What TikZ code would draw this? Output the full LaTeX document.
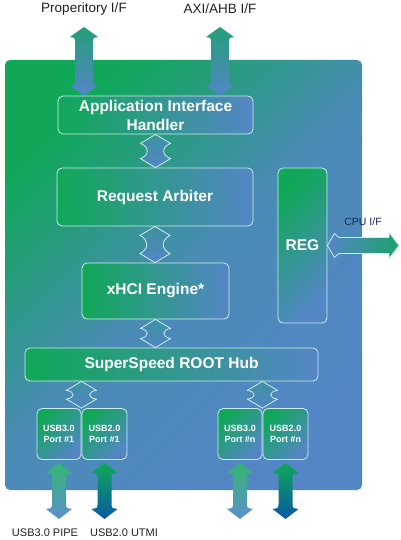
\documentclass[tikz,border=0pt]{standalone}
\usepackage{fontspec}
\setmainfont{Liberation Sans}
\usetikzlibrary{calc}
\definecolor{gr}{RGB}{16,168,88}
\definecolor{bl}{RGB}{84,134,198}
\definecolor{dbl}{RGB}{8,88,165}
\definecolor{lbl}{RGB}{92,144,206}
\definecolor{edge}{RGB}{205,236,236}
\definecolor{lab}{RGB}{34,34,34}
\definecolor{navy}{RGB}{25,40,80}

% bone-shaped vertical double arrow between two points
\newcommand{\bonearrow}[3][]{%
 \path[innerarrow,#1] let \p1=(#2), \p2=(#3), \p3=($(#2)!0.38!(#3)$), \p4=($(#2)!0.62!(#3)$) in
 (\x1,\y1) -- (\x1+15pt,\y1-9pt) .. controls (\x1+6pt,\y3) and (\x1+6pt,\y4) .. (\x1+15pt,\y2+9pt)
 -- (\x1,\y2) -- (\x1-15pt,\y2+9pt) .. controls (\x1-6pt,\y4) and (\x1-6pt,\y3) .. (\x1-15pt,\y1-9pt) -- cycle;}

% straight vertical double arrow: [style]{top}{bottom}{head half width}{shaft half width}{head length}
\newcommand{\dblarrow}[6][]{%
 \path[#1] let \p1=(#2), \p2=(#3) in
 (\x1,\y1) -- (\x1+#4,\y1-#6) .. controls (\x1+#5,\y1-#6-1pt) .. (\x1+#5,\y1-#6-4pt)
 -- (\x1+#5,\y2+#6+4pt) .. controls (\x1+#5,\y2+#6+1pt) .. (\x1+#4,\y2+#6)
 -- (\x1,\y2) -- (\x1-#4,\y2+#6) .. controls (\x1-#5,\y2+#6+1pt) .. (\x1-#5,\y2+#6+4pt)
 -- (\x1-#5,\y1-#6-4pt) .. controls (\x1-#5,\y1-#6-1pt) .. (\x1-#4,\y1-#6) -- cycle;}

\begin{document}
\begin{tikzpicture}[x=1pt,y=-1pt,
 box/.style={draw=edge, line width=0.8pt, rounded corners=5pt, text=white,
   font=\bfseries\fontsize{15.5}{19}\selectfont, align=center, inner sep=0pt},
 hbox/.style={box, left color=gr, right color=bl},
 dbox/.style={box, top color=gr, bottom color=bl, shading angle=45},
 portbox/.style={dbox, minimum height=51pt, font=\bfseries\fontsize{9}{10.5}\selectfont},
 chipbox/.style={rounded corners=5pt, top color=gr, bottom color=bl, middle color=bl!85!gr, shading angle=45, inner sep=0pt},
 innerarrow/.style={draw=edge, line width=0.8pt, top color=bl!65!gr, bottom color=bl},
 toparrow/.style={top color=gr!70!bl, bottom color=bl},
 u3arrow/.style={top color=gr!85!white, bottom color=lbl},
 u2arrow/.style={top color=gr, bottom color=dbl},
 cpuarrow/.style={draw=edge, line width=0.8pt, left color=bl, right color=gr!85!bl},
 toplab/.style={text=lab, font=\fontsize{13.5}{16}\selectfont, inner sep=0pt},
 botlab/.style={text=lab, font=\fontsize{11}{13}\selectfont, inner sep=0pt}]
\useasboundingbox (0,0) rectangle (400,540);
\fill[white] (0,0) rectangle (400,540);

% chip background
\node[chipbox, minimum width=357pt, minimum height=430pt] (chip) at (183.5,275) {};

% top labels and arrows
\node[toplab] (prop) at (84,9) {Properitory I/F};
\node[toplab] (axi) at (220,9) {AXI/AHB I/F};
\coordinate (propT) at (84,27);
\coordinate (axiT) at (220,27);

% boxes
\node[hbox, minimum width=195pt, minimum height=38pt] (app) at (155.5,115) {Application Interface\\Handler};
\node[hbox, minimum width=196pt, minimum height=58pt] (req) at (155,197) {Request Arbiter};
\node[hbox, minimum width=147pt, minimum height=56pt] (xhci) at (155.5,291) {xHCI Engine*};
\node[hbox, minimum width=293pt, minimum height=33pt] (hub) at (171.5,364.5) {SuperSpeed ROOT Hub};
\node[dbox, minimum width=49pt, minimum height=155pt] (reg) at (302.5,245.5) {REG};

\node[portbox, minimum width=44pt] (p1a) at (59,434) {USB3.0\\Port \#1};
\node[portbox, minimum width=45pt] (p1b) at (104.5,434) {USB2.0\\Port \#1};
\node[portbox, minimum width=44pt] (pna) at (240,434) {USB3.0\\Port \#n};
\node[portbox, minimum width=45pt] (pnb) at (285.5,434) {USB2.0\\Port \#n};

\dblarrow[toparrow]{propT}{propT |- app.north}{14pt}{9pt}{10pt}
\dblarrow[toparrow]{axiT}{axiT |- app.north}{14pt}{9pt}{10pt}

% inner arrows
\bonearrow{app.south}{req.north}
\bonearrow{req.south}{xhci.north}
\bonearrow{xhci.south}{hub.north}
\bonearrow{hub.south -| p1a.north east}{p1a.north east}
\bonearrow{hub.south -| pna.north east}{pna.north east}

% CPU interface
\coordinate (cpuend) at (399,245.5);
\path[cpuarrow] let \p1=(reg.east), \p2=(cpuend) in
 (\x1,\y1) -- (\x1+7pt,\y1+12pt) .. controls (\x1+11pt,\y1+8pt) .. (\x1+15pt,\y1+8pt)
 -- (\x2-10pt,\y1+8pt) -- (\x2-10pt,\y1+13pt) -- (\x2,\y1) -- (\x2-10pt,\y1-13pt) -- (\x2-10pt,\y1-8pt)
 -- (\x1+15pt,\y1-8pt) .. controls (\x1+11pt,\y1-8pt) .. (\x1+7pt,\y1-12pt) -- cycle;
\node[text=navy, font=\fontsize{10.5}{12}\selectfont, inner sep=0pt] (cpulab) at (363,222) {CPU I/F};

% bottom arrows
\coordinate (b1) at (59,519);
\coordinate (b2) at (104.5,519);
\coordinate (b3) at (240,519);
\coordinate (b4) at (285.5,519);
\dblarrow[u3arrow]{$(p1a.south)+(0,3)$}{b1}{13pt}{7pt}{10pt}
\dblarrow[u2arrow]{$(p1b.south)+(0,3)$}{b2}{13pt}{7pt}{10pt}
\dblarrow[u3arrow]{$(pna.south)+(0,3)$}{b3}{13pt}{7pt}{10pt}
\dblarrow[u2arrow]{$(pnb.south)+(0,3)$}{b4}{13pt}{7pt}{10pt}

\node[botlab] (pipe) at (45,533) {USB3.0 PIPE};
\node[botlab] (utmi) at (124,533) {USB2.0 UTMI};
\end{tikzpicture}
\end{document}
